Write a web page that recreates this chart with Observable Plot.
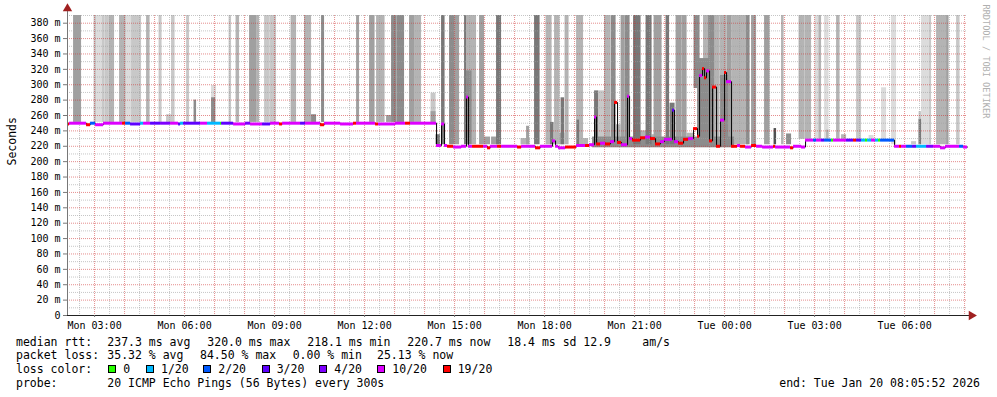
<!DOCTYPE html>
<html><head><meta charset="utf-8">
<script src="https://cdn.jsdelivr.net/npm/d3@7"></script>
<script src="https://cdn.jsdelivr.net/npm/@observablehq/plot@0.6"></script>
<style>
body{margin:0;background:#fff;}
#wrap{position:relative;width:997px;height:397px;font-family:"DejaVu Sans Mono",monospace;background:#fff;overflow:hidden;}
#chart{position:absolute;left:0;top:0;}
.t{position:absolute;font-size:11.5px;line-height:14px;white-space:pre;color:#000;}
.box{position:absolute;width:6px;height:6px;border:1px solid #000;}
</style></head><body><div id="wrap"><div id="chart"></div></div>
<script>
// ---- time axis (minutes since Mon 00:00) ----
const START = 125.87, END = 1925.87;
const xTickMin = [180, 360, 540, 720, 900, 1080, 1260, 1440, 1620, 1800];
const xTickLabels = ["Mon 03:00","Mon 06:00","Mon 09:00","Mon 12:00","Mon 15:00","Mon 18:00","Mon 21:00","Tue 00:00","Tue 03:00","Tue 06:00"];
const yTicks = [0,20,40,60,80,100,120,140,160,180,200,220,240,260,280,300,320,340,360,380];

// ---- loss buckets ----
const lossSteps = [0, 1, 2, 3, 4, 10, 19];
const lossLabels = ["0", "1/20", "2/20", "3/20", "4/20", "10/20", "19/20"];
const lossColors = ["#26ff00", "#00b8ff", "#0059ff", "#5e00ff", "#7e00ff", "#dd00ff", "#ff0000"];

// ---- median rtt (ms) : start minute, value, lost pings ----
const medT = [126,130,164,172,182,198,236,242,252,272,278,292,312,332,348,352,358,392,406,432,434,458,482,492,516,532,550,556,592,602,632,640,672,698,704,742,748,782,802,812,
864,874,880,886,898,914,924,928,936,958,966,972,986,994,1026,1034,1062,1072,1096,1102,1108,1122,1144,1162,1170,1180,1184,1192,1202,1212,1220,1226,1234,1246,1250,1256,1272,1282,1292,1302,1312,1320,1336,1340,1348,1358,1368,1378,1386,1390,1396,1400,1404,1410,1416,1424,1432,1440,1444,1454,1466,1472,1482,1494,1504,1516,1538,1542,1572,1578,1594,
1602,1618,1624,1634,1640,1654,1658,1684,1698,1704,1714,1722,1726,1734,1742,1748,1752,
1780,1790,1794,1804,1816,1824,1844,1858,1872,1882,1910,1918];
const medV = [249,250,248,250,248,250,250,250,249,250,250,250,250,250,249,250,250,250,250,250,250,249,250,249,249,250,249,250,250,250,248,250,249,250,250,249,249,250,250,250,
221,249,221,220,219,220,284,220,220,220,218,220,220,220,219,220,218,220,227,220,218,219,221,221,222,258,223,224,223,226,277,225,222,285,230,228,231,232,230,223,226,229,267,226,224,229,230,243,233,312,321,309,318,227,297,220,254,316,304,220,221,220,219,221,220,219,220,219,218,220,219,
228,228,228,228,228,228,228,228,228,228,228,228,228,228,228,228,228,
220,220,220,220,220,220,220,220,218,220,220,219];
const medL = [19,10,19,2,10,10,19,2,3,1,10,3,4,10,3,1,3,10,1,0,3,10,4,10,3,10,19,10,3,10,19,10,10,19,10,19,10,10,19,10,
10,10,10,19,10,10,10,10,19,10,19,10,19,10,19,10,19,10,10,10,10,19,10,19,10,10,19,10,19,10,19,19,10,10,10,19,19,10,19,19,10,10,3,10,19,19,10,19,19,10,19,19,10,19,19,19,10,19,10,19,10,19,10,19,10,10,19,10,19,10,10,
10,2,10,3,2,0,10,3,19,3,1,0,1,10,1,0,2,
10,19,10,2,3,1,4,10,10,10,2,10];

// ---- smoke (ping spread) : start, end minute, low, high ms, density level ----
const smokeT0 = [138,179,184,195,201,209,230,243,254,284,309,324,334,364,379,414,414,449,463,490,504,520,531,573,600,614,634,704,730,744,764,774,785,810,820,853,853,
863,874,890,900,920,924,924,950,960,974,984,1033,1044,1060,1083,1092,1100,1110,1113,1121,1144,1145,1158,1176,1180,1188,1200,1213,1223,1233,1241,1258,1272,1283,1295,1299,1323,1331,1343,1355,1365,1379,1386,1398,1408,1421,1431,1432,1445,1455,1484,1494,1520,1539,1554,1564,1589,
1601,1621,1629,1640,1644,1664,1674,1704,1729,1754,1774,
1814,1829,1829,1834,1850,1864,1884,1904,1911];
const smokeT1 = [154,184,195,201,209,220,243,254,274,291,315,336,341,370,384,424,422,454,470,504,510,531,544,584,614,624,640,710,741,761,774,785,800,820,834,863,863,
872,881,900,910,924,944,935,960,972,992,994,1051,1050,1071,1095,1099,1111,1121,1120,1129,1158,1150,1168,1460,1188,1200,1212,1223,1233,1241,1251,1273,1284,1295,1304,1315,1330,1341,1355,1365,1379,1391,1412,1408,1421,1431,1445,1448,1455,1488,1491,1504,1531,1544,1559,1574,1601,
1614,1631,1634,1649,1649,1671,1684,1714,1739,1764,1784,
1824,1834,1834,1850,1854,1884,1889,1911,1924];
const smokeLo = [251,251,251,251,251,251,251,251,251,251,251,251,251,251,251,251,251,251,251,251,251,251,251,251,251,251,251,251,251,251,251,251,251,251,251,251,251,
222,222,222,222,222,222,222,222,222,222,222,222,222,222,222,222,222,222,222,222,222,222,222,218,222,222,222,222,222,222,222,222,222,222,222,222,222,222,222,222,222,295,222,222,222,222,292,222,222,222,222,222,222,222,222,222,
229,229,229,229,229,229,229,229,229,229,229,
222,222,222,222,222,222,222,222,222];
const smokeHi = [390,390,390,390,390,390,390,390,390,390,390,261,390,390,280,299,283,390,390,390,390,390,390,390,390,261,390,390,390,390,260,390,390,390,390,289,265,
235,390,390,390,390,390,318,390,232,232,390,230,246,390,390,251,390,237,283,390,390,254,230,232,292,292,390,390,248,390,390,390,240,390,235,390,390,276,390,390,237,390,334,390,390,390,390,312,390,390,390,390,390,243,390,236,390,
390,390,390,390,241,390,235,390,234,296,390,
226,265,255,390,390,390,390,390,390];
const smokeLvl = [4,2,1,2,2,3,3,1,2,3,2,2,2,2,5,1,5,2,3,4,3,2,2,3,3,5,5,4,4,3,4,5,5,4,3,2,4,
6,6,5,4,6,3,5,4,4,4,6,3,4,6,3,6,3,3,6,3,3,6,3,5,6,2,3,5,3,4,5,6,3,6,3,4,6,6,4,4,3,5,5,3,5,3,3,5,4,3,5,4,4,8,3,5,3,
3,1,3,1,3,3,3,2,1,1,1,
2,2,6,1,2,3,4,2,1];
const smokeGrays = ["#dcdcdc","#c8c8c8","#b4b4b4","#a0a0a0","#8c8c8c","#787878","#646464","#505050"];

// ---- build tables ----
const med = medT.map((t, i) => ({t, t1: i < medT.length - 1 ? medT[i + 1] : END, v: medV[i], c: lossColors[lossSteps.indexOf(medL[i])]}));
const medLine = med.map(d => ({t: d.t, v: d.v})).concat([{t: END, v: medV[medV.length - 1]}]);
const smoke = smokeT0.map((t0, i) => ({t0, t1: smokeT1[i], lo: smokeLo[i], hi: smokeHi[i], lvl: smokeLvl[i]}))
  .sort((a, b) => a.lvl - b.lvl);

const hMinor = d3.range(10, 391, 20), hMajor = d3.range(20, 381, 20);
const vMinor = d3.range(150, END, 60), vMajor = d3.range(180, END, 60);

const plot = Plot.plot({
  width: 997, height: 335,
  marginLeft: 67, marginRight: 30, marginTop: 15, marginBottom: 20,
  x: {domain: [START, END], axis: null},
  y: {domain: [0, 390], axis: null},
  style: {fontFamily: "'DejaVu Sans Mono', monospace", fontSize: "10px", color: "#000", background: "#fff", overflow: "visible"},
  marks: [
    Plot.rect(smoke, {x1: "t0", x2: "t1", y1: "lo", y2: "hi", fill: d => smokeGrays[d.lvl - 1]}),
    Plot.ruleY(hMinor, {stroke: "#a0a0a0", strokeOpacity: 0.6, strokeDasharray: "1,1"}),
    Plot.ruleX(vMinor, {stroke: "#a0a0a0", strokeOpacity: 0.6, strokeDasharray: "1,1"}),
    Plot.ruleY(hMajor, {stroke: "#d03030", strokeOpacity: 0.55, strokeDasharray: "1,1"}),
    Plot.ruleX(vMajor, {stroke: "#d03030", strokeOpacity: 0.55, strokeDasharray: "1,1"}),
    Plot.line(medLine, {x: "t", y: "v", curve: "step-after", stroke: "#000", strokeWidth: 1}),
    Plot.ruleY(med, {y: "v", x1: "t", x2: "t1", stroke: "c", strokeWidth: 3}),
    // axes
    Plot.ruleX([START], {y1: 0, y2: 396, stroke: "#777", strokeWidth: 1}),
    Plot.ruleY([0], {x1: START, x2: END + 6, stroke: "#222", strokeWidth: 1}),
    Plot.dot([0], {x: START, y: 399, symbol: "triangle", r: 3.5, fill: "#a02020", stroke: null}),
    Plot.dot([0], {x: END + 8, y: 0, symbol: "triangle", r: 3.5, rotate: 90, fill: "#a02020", stroke: null}),
    Plot.axisY(yTicks, {anchor: "left", tickSize: 4, tickPadding: 3, stroke: "#777", fill: "#000",
      tickFormat: d => d === 0 ? "0" : d + " m"}),
    Plot.axisX(xTickMin, {anchor: "bottom", tickSize: 2, tickPadding: 4, stroke: "#777", fill: "#000",
      tickFormat: d => xTickLabels[xTickMin.indexOf(d)]}),
    Plot.text(["Seconds"], {frameAnchor: "left", dx: -55, rotate: -90, fontSize: 11.5, fill: "#000"}),
    Plot.text(["RRDTOOL / TOBI OETIKER"], {frameAnchor: "top-right", dx: 22, dy: -11, rotate: 90, textAnchor: "start", fontSize: 8.6, fill: "#b0b0b0"})
  ]
});
document.getElementById("chart").appendChild(plot);

// ---- legend text ----
const wrap = document.getElementById("wrap");
function put(txt, left, top, right) {
  const s = document.createElement("div");
  s.className = "t"; s.textContent = txt; s.style.top = top + "px";
  if (right != null) s.style.right = right + "px"; else s.style.left = left + "px";
  wrap.appendChild(s);
}
const statsRtt = ["237.3 ms avg", "320.0 ms max", "218.1 ms min", "220.7 ms now", "18.4 ms sd", "12.9", "am/s"];
const statsRttX = [107.3, 207.3, 307.3, 407.3, 507.3, 583.3, 642.3];
const statsLoss = ["35.32 % avg", "84.50 % max", "0.00 % min", "25.13 % now"];
const statsLossX = [107.3, 200, 292.7, 377];
put("median rtt:", 16, 334.7);
statsRtt.forEach((s, i) => put(s, statsRttX[i], 334.7));
put("packet loss:", 16, 348.4);
statsLoss.forEach((s, i) => put(s, statsLossX[i], 348.4));
put("loss color:", 16, 362.4);
const boxX = [108.3, 146, 203.3, 261.7, 319.3, 377.3, 442.7];
lossLabels.forEach((l, i) => {
  const b = document.createElement("div");
  b.className = "box"; b.style.left = boxX[i] + "px"; b.style.top = "365.3px"; b.style.background = lossColors[i];
  wrap.appendChild(b);
  put(l, boxX[i] + 15, 362.4);
});
put("probe:", 16, 375.7);
put("20 ICMP Echo Pings (56 Bytes) every 300s", 107.3, 375.7);
put("end: Tue Jan 20 08:05:52 2026", null, 376.3, 17);
</script></body></html>
